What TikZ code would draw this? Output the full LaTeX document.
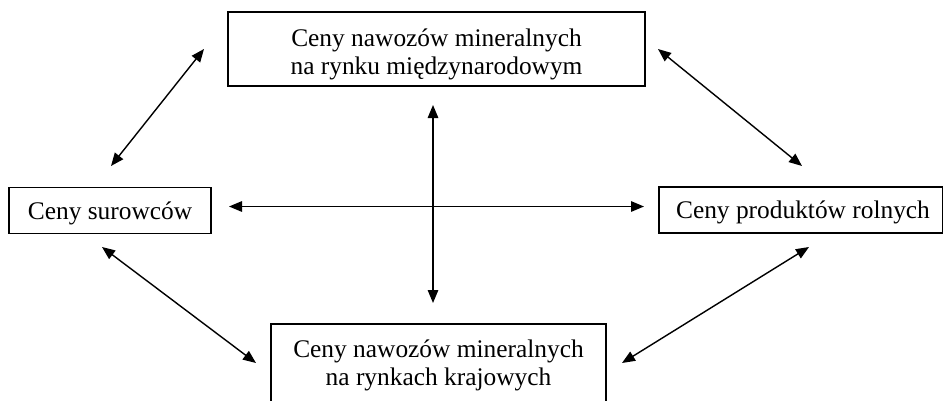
\documentclass[tikz,border=0pt]{standalone}
\usepackage{fontspec}
\setmainfont{Liberation Serif}
\usetikzlibrary{arrows.meta}
\begin{document}
\begin{tikzpicture}[x=0.02cm,y=-0.02cm,
  frame/.style={draw, line width=0.8pt, inner sep=0pt},
  txt/.style={inner sep=0pt, align=center, anchor=base,
    font=\fontsize{14.45}{15.9}\selectfont},
  link/.style={line width=0.8pt, {Triangle[length=0.26cm,width=0.21cm]}-{Triangle[length=0.26cm,width=0.21cm]}}]
\useasboundingbox (0,0) rectangle (943,400);
\node[frame, minimum width=417*0.02cm, minimum height=74*0.02cm] (top) at (436.5,49) {};
\node[frame, minimum width=202*0.02cm, minimum height=46*0.02cm] (left) at (110,210.5) {};
\node[frame, minimum width=284*0.02cm, minimum height=46*0.02cm] (right) at (801,210) {};
\node[frame, minimum width=335*0.02cm, minimum height=90*0.02cm] (bot) at (438.5,369) {};
\node[txt] (topt) at (436.5,74) {Ceny nawozów mineralnych\\na rynku międzynarodowym};
\node[txt] (leftt) at (110,219) {Ceny surowców};
\node[txt] (rightt) at (803,218) {Ceny produktów rolnych};
\node[txt] (bott) at (438.5,385) {Ceny nawozów mineralnych\\na rynkach krajowych};
\coordinate (a1) at (111,166); \coordinate (a2) at (204,49);
\coordinate (b1) at (658,49); \coordinate (b2) at (802,166);
\coordinate (c1) at (229,206.5); \coordinate (c2) at (644,206.5);
\coordinate (d1) at (433,105); \coordinate (d2) at (433,303);
\coordinate (e1) at (102,247); \coordinate (e2) at (256,363);
\coordinate (f1) at (622,363); \coordinate (f2) at (809,247);
\draw[link] (a1) -- (a2);
\draw[link] (b1) -- (b2);
\draw[link] (c1) -- (c2);
\draw[link] (d1) -- (d2);
\draw[link] (e1) -- (e2);
\draw[link] (f1) -- (f2);
\end{tikzpicture}
\end{document}
